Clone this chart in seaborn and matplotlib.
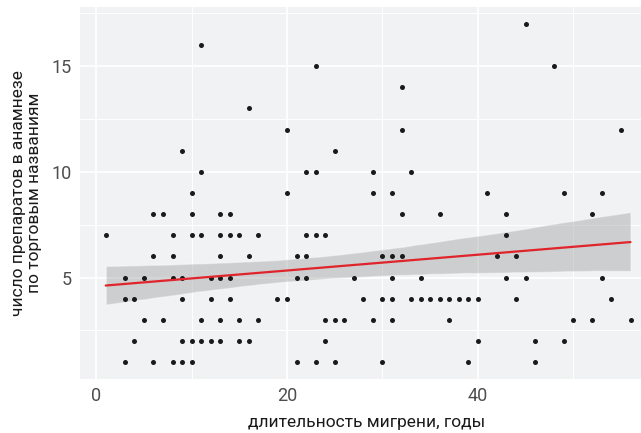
import numpy as np
import pandas as pd
import matplotlib
matplotlib.use("Agg")
import matplotlib.pyplot as plt
from matplotlib.ticker import MultipleLocator
import seaborn as sns

# длительность мигрени (годы) у пациентов с данным числом препаратов
n1 = [3, 6, 8, 9, 10, 21, 23, 25, 30, 39, 46]
n2 = [4, 9, 10, 11, 12, 13, 15, 16, 24, 40, 46, 49]
n3 = [5, 7, 11, 13, 15, 17, 24, 25, 26, 29, 31, 37, 50, 52, 56]
n4 = [3, 4, 9, 12, 14, 19, 20, 28, 30, 31, 33, 34, 35, 36, 37, 38, 39, 40, 44, 54]
n5 = [3, 5, 8, 9, 12, 13, 14, 21, 22, 27, 31, 34, 43, 45, 53]
n6 = [6, 8, 13, 16, 21, 22, 30, 31, 32, 42, 44]
n7 = [1, 8, 10, 11, 13, 14, 15, 17, 22, 23, 24, 43]
n8 = [6, 7, 10, 13, 14, 32, 36, 43, 52]
n9 = [10, 20, 29, 31, 41, 49, 53]
n10 = [11, 22, 23, 29, 33]
n11 = [9, 25]
n12 = [20, 32, 55]
n13 = [16]
n14 = [32]
n15 = [23, 48]
n16 = [11]
n17 = [45]

# совпадающие точки (скрыты под видимыми), оценены по линии регрессии
overlap_years = [10, 4, 10, 12, 5, 11, 3, 9, 5, 8, 43, 41, 42, 44, 45]
overlap_drugs = [1, 2, 2, 2, 3, 3, 4, 4, 5, 5, 8, 9, 6, 6, 5]

groups = [n1, n2, n3, n4, n5, n6, n7, n8, n9, n10, n11, n12, n13, n14, n15, n16, n17]
years = []
drugs = []
for count, yrs in enumerate(groups, start=1):
    years += yrs
    drugs += [count] * len(yrs)
years += overlap_years
drugs += overlap_drugs
df = pd.DataFrame({"years": years, "drugs": drugs})

sns.set_theme(style="darkgrid")
plt.rcParams["font.family"] = ["Roboto", "DejaVu Sans"]

fig = plt.figure(figsize=(6.41, 4.33), dpi=100)
ax = fig.add_axes([80 / 641, 1 - 379 / 433, (641 - 80) / 641, (379 - 7) / 433])
ax.set_facecolor("#F1F2F4")

# линия регрессии с доверительной полосой
sns.regplot(data=df, x="years", y="drugs", ax=ax, ci=95, seed=3, n_boot=2000,
            scatter=False, line_kws=dict(color="#E0242B", lw=1.6, zorder=5))
band = ax.collections[-1]
band.set_facecolor("#999999")
band.set_alpha(0.4)
band.set_zorder(3)

# точки (совпадающие рисуются один раз)
sns.scatterplot(data=df.drop_duplicates(), x="years", y="drugs", ax=ax,
                s=13, color="#1a1a1a", linewidth=0, zorder=4)

ax.set_xlim(-1.7, 57.1)
ax.set_ylim(0.2, 17.8)
ax.xaxis.set_major_locator(MultipleLocator(20))
ax.xaxis.set_minor_locator(MultipleLocator(10))
ax.yaxis.set_major_locator(MultipleLocator(5))
ax.yaxis.set_minor_locator(MultipleLocator(2.5))
ax.grid(which="major", color="white", lw=1.3)
ax.grid(which="minor", color="white", lw=0.7)
for s in ax.spines.values():
    s.set_visible(False)
ax.tick_params(which="major", length=4, width=1, color="#333333",
               labelsize=13, labelcolor="#4D4D4D", pad=2)
ax.tick_params(which="minor", length=0)

ax.set_xlabel("длительность мигрени, годы", fontsize=12.5, color="#1a1a1a")
ax.xaxis.set_label_coords(0.511, -0.098)
ax.set_ylabel("число препаратов в анамнезе\nпо торговым названиям", fontsize=12.5,
              color="#1a1a1a", linespacing=1.1)
ax.yaxis.set_label_coords(-0.067, 0.5)

fig.savefig("out.png", dpi=100)
